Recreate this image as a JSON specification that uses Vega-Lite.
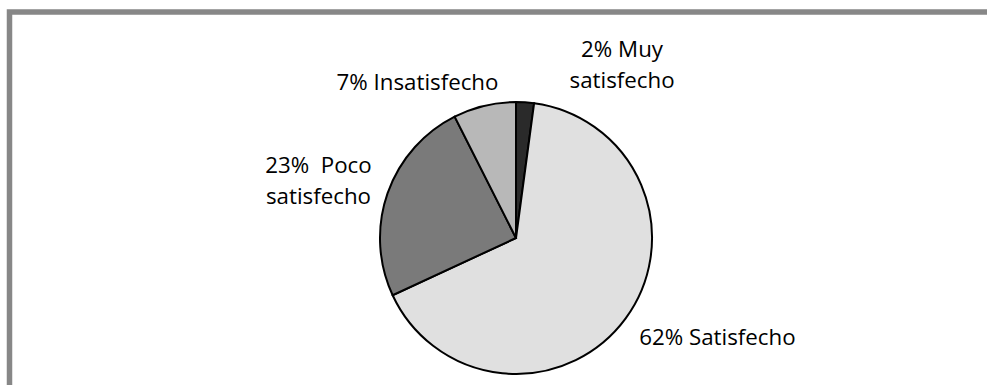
{
  "$schema": "https://vega.github.io/schema/vega-lite/v6.json",
  "autosize": {"type": "none"},
  "width": 1013,
  "height": 452,
  "padding": {"left": 9.5, "top": 12, "right": -35.5, "bottom": -79},
  "background": "white",
  "view": {"stroke": "#878787", "strokeWidth": 5.5, "fill": "white"},
  "config": {
    "text": {"font": "Open Sans", "fontSize": 22.3, "color": "#000000"}
  },
  "data": {
    "values": [
      {"cat": "Muy satisfecho", "pct": 2, "orden": 1, "label": ["2% Muy", "satisfecho"]},
      {"cat": "Satisfecho", "pct": 62, "orden": 2, "label": ["62% Satisfecho"]},
      {"cat": "Poco satisfecho", "pct": 23, "orden": 3, "label": ["23%\u00a0\u00a0Poco", "satisfecho"]},
      {"cat": "Insatisfecho", "pct": 7, "orden": 4, "label": ["7% Insatisfecho"]}
    ]
  },
  "layer": [
    {
      "mark": {"type": "arc", "outerRadius": 136, "stroke": "#000000", "strokeWidth": 2},
      "encoding": {
        "theta": {"field": "pct", "type": "quantitative", "stack": true},
        "order": {"field": "orden", "type": "quantitative"},
        "color": {
          "field": "cat",
          "type": "nominal",
          "sort": ["Muy satisfecho", "Satisfecho", "Poco satisfecho", "Insatisfecho"],
          "scale": {
            "domain": ["Muy satisfecho", "Satisfecho", "Poco satisfecho", "Insatisfecho"],
            "range": ["#2a2a2a", "#e0e0e0", "#7a7a7a", "#b8b8b8"]
          },
          "legend": null
        }
      }
    },
    {
      "transform": [{"filter": "datum.cat == 'Muy satisfecho'"}],
      "mark": {"type": "text", "theta": 0.530, "radius": 209.8, "align": "center", "baseline": "alphabetic", "lineHeight": 31},
      "encoding": {"text": {"field": "label"}}
    },
    {
      "transform": [{"filter": "datum.cat == 'Satisfecho'"}],
      "mark": {"type": "text", "theta": 2.059, "radius": 228.1, "align": "center", "baseline": "alphabetic", "lineHeight": 31},
      "encoding": {"text": {"field": "label"}}
    },
    {
      "transform": [{"filter": "datum.cat == 'Poco satisfecho'"}],
      "mark": {"type": "text", "theta": 5.030, "radius": 207.9, "align": "center", "baseline": "alphabetic", "lineHeight": 31},
      "encoding": {"text": {"field": "label"}}
    },
    {
      "transform": [{"filter": "datum.cat == 'Insatisfecho'"}],
      "mark": {"type": "text", "theta": 5.696, "radius": 177.8, "align": "center", "baseline": "alphabetic", "lineHeight": 31},
      "encoding": {"text": {"field": "label"}}
    }
  ]
}
